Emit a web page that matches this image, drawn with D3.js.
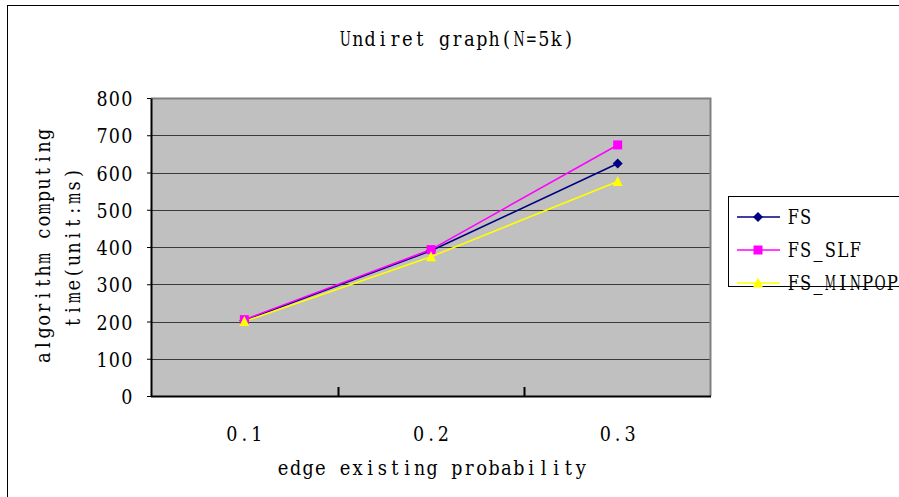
<!DOCTYPE html>
<html><head><meta charset="utf-8">
<script src="https://cdn.jsdelivr.net/npm/d3@7"></script>
<style>html,body{margin:0;padding:0;background:#fff;}svg{display:block;}</style>
</head><body>
<svg id="c" width="899" height="497"></svg>
<script>
const categories = ["0.1", "0.2", "0.3"];
const seriesNames = ["FS", "FS_SLF", "FS_MINPOP"];
const fsValues = [203, 390, 624];
const fsSlfValues = [205, 393, 674];
const fsMinpopValues = [200, 374, 576];
const yTicks = [0, 100, 200, 300, 400, 500, 600, 700, 800];
const titleText = "Undiret graph(N=5k)";
const xTitle = "edge existing probability";
const yTitleLines = ["algorithm computing", "time(unit:ms)"];

const series = [
  {name: seriesNames[0], values: fsValues, color: "#000080", marker: "diamond"},
  {name: seriesNames[1], values: fsSlfValues, color: "#FF00FF", marker: "square"},
  {name: seriesNames[2], values: fsMinpopValues, color: "#FFFF00", marker: "triangle"}
];

const svg = d3.select("#c");
const L = 151, R = 711, T = 98, B = 396;
const ADV = 12.4, FS = 20;
const FONT = "'DejaVu Serif Condensed', 'DejaVu Serif', 'Liberation Serif', serif";

// monospace-like text with serif glyphs (per-character placement)
function monoText(parent, str, x0, y0, anchor, rot) {
  const g = parent.append("g").attr("transform", `translate(${x0},${y0})` + (rot ? ` rotate(${rot})` : ""));
  const n = str.length;
  const start = anchor === "middle" ? -n * ADV / 2 : anchor === "end" ? -n * ADV : 0;
  for (let i = 0; i < n; i++) {
    const ch = str[i];
    if (ch === " ") continue;
    const cx = start + (i + 0.5) * ADV;
    const t = g.append("text").attr("text-anchor", "middle")
      .style("font-family", FONT).style("font-size", FS + "px").style("fill", "#000").text(ch);
    const w = t.node().getComputedTextLength();
    const s = w > ADV * 0.9 ? (ADV * 0.9) / w : 1;
    t.attr("transform", `translate(${cx},0) scale(${s},1)`);
  }
  return g;
}

// outer frame
svg.append("rect").attr("x", 7.5).attr("y", 5.5).attr("width", 1000).attr("height", 1000)
  .attr("fill", "none").attr("stroke", "#000").attr("stroke-width", 1);

const x = d3.scaleBand().domain(categories).range([L, R]);
const y = d3.scaleLinear().domain([0, 800]).range([B, T]);

// plot background
svg.append("rect").attr("x", L).attr("y", T).attr("width", R - L).attr("height", B - T).attr("fill", "#C0C0C0");

// gridlines
svg.append("g").selectAll("line").data(yTicks.filter(d => d > 0 && d < 800)).join("line")
  .attr("x1", L).attr("x2", R).attr("y1", d => Math.round(y(d)) + 0.5).attr("y2", d => Math.round(y(d)) + 0.5)
  .attr("stroke", "#3a3a3a").attr("stroke-width", 1);

// plot border: top/right gray
svg.append("path").attr("d", `M${L},${T + 0.5}H${R - 0.5}V${B}`).attr("fill", "none").attr("stroke", "#808080").attr("stroke-width", 2);

// y axis
const yAxis = svg.append("g").attr("transform", `translate(${L},0)`)
  .call(d3.axisLeft(y).tickValues(yTicks).tickSize(4).tickSizeOuter(0));
yAxis.select(".domain").attr("stroke", "#000").attr("stroke-width", 2);
yAxis.selectAll(".tick line").attr("stroke", "#000");
yAxis.selectAll(".tick text").remove();
yTicks.forEach(v => monoText(svg, String(v), 133, y(v) + 8, "end"));

// x axis
const xAxis = svg.append("g").attr("transform", `translate(0,${B})`)
  .call(d3.axisBottom(x).tickSize(0));
xAxis.select(".domain").attr("stroke", "#000").attr("stroke-width", 2).attr("d", `M${L},0.5H${R}`);
xAxis.selectAll(".tick text").remove();
categories.forEach(c => monoText(svg, c, x(c) + x.bandwidth() / 2, 441, "middle"));
// category separator ticks (inside)
svg.append("g").selectAll("line").data(categories.slice(1)).join("line")
  .attr("x1", d => Math.round(x(d)) + 0.5).attr("x2", d => Math.round(x(d)) + 0.5)
  .attr("y1", B - 9).attr("y2", B).attr("stroke", "#000").attr("stroke-width", 2);

const cx = d => x(d) + x.bandwidth() / 2;

function markerPath(type, s) {
  if (type === "diamond") return `M0,${-s}L${s},0L0,${s}L${-s},0Z`;
  if (type === "square") return `M${-s * 0.9},${-s * 0.9}H${s * 0.9}V${s * 0.9}H${-s * 0.9}Z`;
  return `M0,${-s * 1.1}L${s},${s * 0.9}L${-s},${s * 0.9}Z`;
}

const line = d3.line().x((d, i) => cx(categories[i])).y(d => y(d));
series.forEach(s => {
  svg.append("path").datum(s.values).attr("d", line).attr("fill", "none").attr("stroke", s.color).attr("stroke-width", 1.6);
});
series.forEach(s => {
  svg.append("g").selectAll("path").data(s.values).join("path")
    .attr("transform", (d, i) => `translate(${cx(categories[i])},${y(d)})`)
    .attr("d", markerPath(s.marker, 5)).attr("fill", s.color);
});

// title
monoText(svg, titleText, 457, 46, "middle");
// x title
monoText(svg, xTitle, 432, 475, "middle");
// y title (rotated)
monoText(svg, yTitleLines[0], 50, 246, "middle", -90);
monoText(svg, yTitleLines[1], 80, 248, "middle", -90);

// legend
svg.append("rect").attr("x", 728.5).attr("y", 196.5).attr("width", 200).attr("height", 90).attr("fill", "#fff").attr("stroke", "#000").attr("stroke-width", 1);
const rowsY = [217, 250, 283];
const lg = svg.append("g").selectAll("g").data(series).join("g")
  .attr("transform", (d, i) => `translate(0,${rowsY[i]})`);
lg.append("line").attr("x1", 737).attr("x2", 780).attr("y1", 0).attr("y2", 0).attr("stroke", d => d.color).attr("stroke-width", 1.6);
lg.append("path").attr("transform", "translate(758,0)").attr("d", d => markerPath(d.marker, 5)).attr("fill", d => d.color);
series.forEach((s, i) => monoText(svg, s.name, 787, rowsY[i] + 7, "start"));
</script>
</body></html>
